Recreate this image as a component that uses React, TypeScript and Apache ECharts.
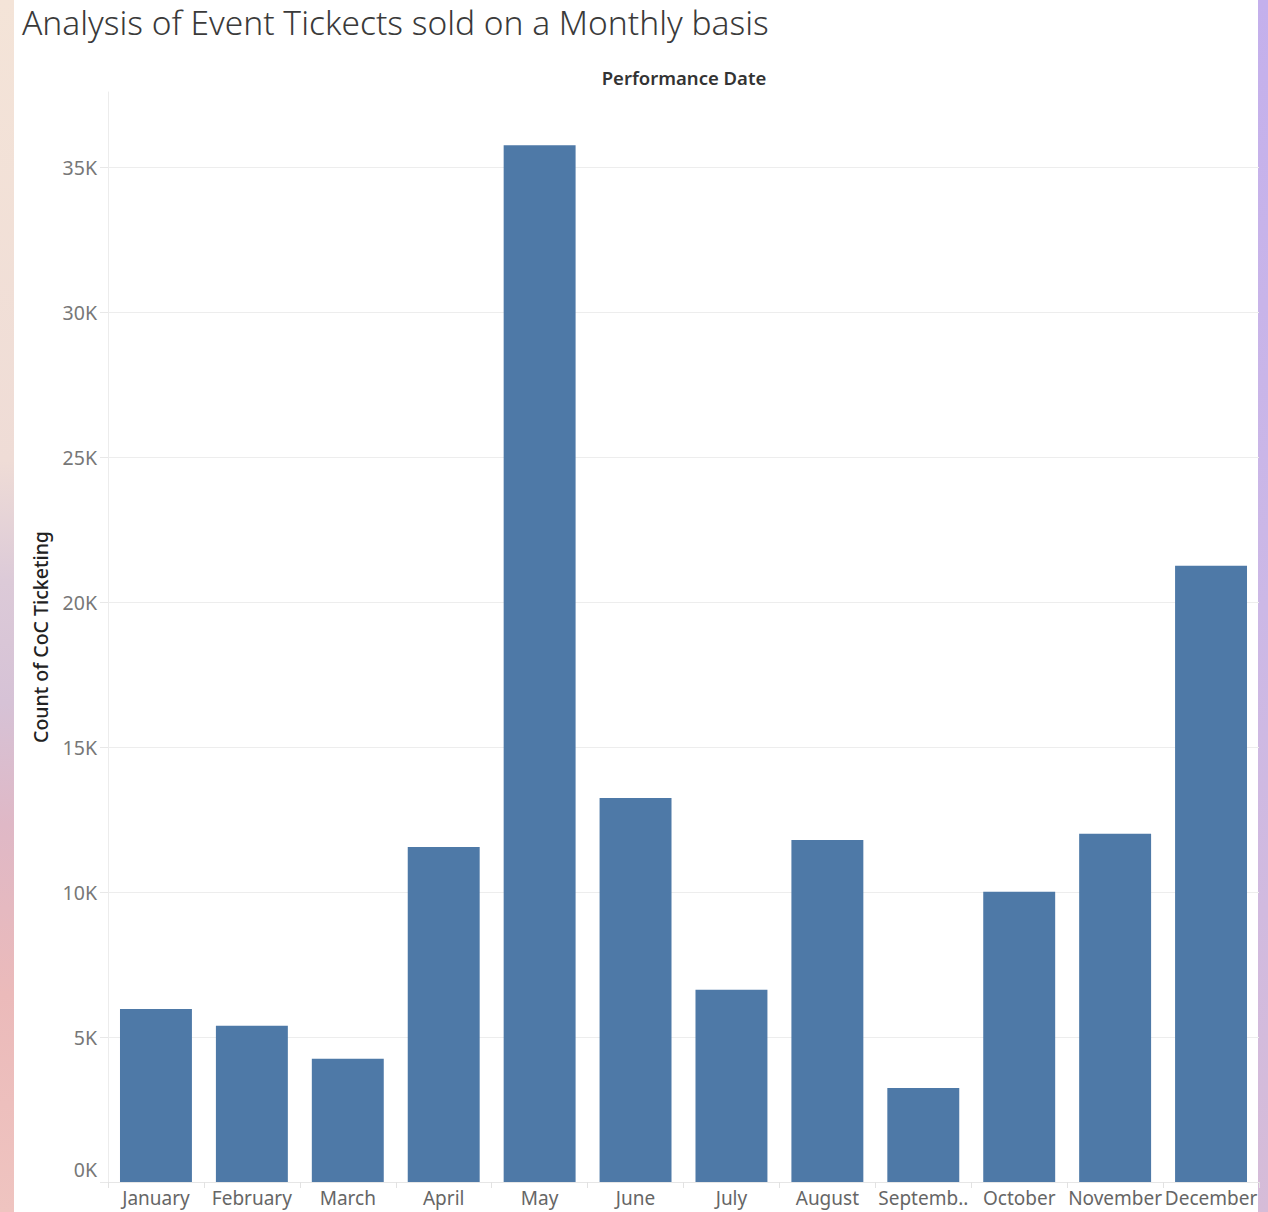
import React, { useEffect, useRef } from "react";
import * as echarts from "echarts";

const TITLE = "Analysis of Event Tickects sold on a Monthly basis";
const X_TITLE = "Performance Date";
const Y_TITLE = "Count of CoC Ticketing";
const months = [
  "January", "February", "March", "April", "May", "June",
  "July", "August", "September", "October", "November", "December",
];
const tickets = [5970, 5390, 4250, 11560, 35760, 13250, 6630, 11800, 3240, 10010, 12010, 21260];
const yMax = 37600;
const yStep = 5000;

const FONT = "'Noto Sans', 'Open Sans', sans-serif";

export default function App() {
  const ref = useRef<HTMLDivElement>(null);
  useEffect(() => {
    if (!ref.current) return;
    const chart = echarts.init(ref.current, undefined, { renderer: "svg" });
    chart.setOption({
      animation: false,
      backgroundColor: "#ffffff",
      textStyle: { fontFamily: FONT },
      title: {
        text: TITLE,
        left: 17,
        top: 0,
        padding: [2, 5, 2, 5],
        textStyle: { fontSize: 33.5, lineHeight: 40, fontWeight: 300, color: "#3a3a3a", fontFamily: FONT },
      },
      graphic: [
        {
          type: "rect",
          z: -10,
          shape: { x: 0, y: 0, width: 14, height: 1212 },
          style: {
            fill: new echarts.graphic.LinearGradient(0, 0, 0, 1, [
              { offset: 0, color: "#f4e4d8" },
              { offset: 0.38, color: "#efdcd6" },
              { offset: 0.48, color: "#dccad8" },
              { offset: 0.58, color: "#d6c2d6" },
              { offset: 0.68, color: "#dfb8c6" },
              { offset: 0.82, color: "#ebbaba" },
              { offset: 1, color: "#efc4c0" },
            ]),
          },
        },
        {
          type: "rect",
          z: -10,
          shape: { x: 1258, y: 0, width: 10, height: 1212 },
          style: {
            fill: new echarts.graphic.LinearGradient(0, 0, 0, 1, [
              { offset: 0, color: "#c4b0ec" },
              { offset: 0.5, color: "#ccb8e6" },
              { offset: 1, color: "#d6bcd8" },
            ]),
          },
        },
        {
          type: "text",
          x: 684,
          y: 77,
          style: {
            text: X_TITLE,
            fontSize: 18.5,
            fontWeight: 600,
            fill: "#333333",
            fontFamily: FONT,
            textAlign: "center",
            textVerticalAlign: "middle",
          },
        },
      ],
      grid: { left: 108, right: 9, top: 92, bottom: 30, containLabel: false },
      xAxis: {
        type: "category",
        data: months,
        axisLine: { show: true, lineStyle: { color: "#e6e6e6", width: 1 } },
        axisTick: { show: true, length: 6, lineStyle: { color: "#e2e2e2" } },
        axisLabel: {
          interval: 0,
          margin: 6,
          fontSize: 19,
          color: "#666666",
          fontFamily: FONT,
          formatter: (v: string) => (v.length > 8 ? v.slice(0, 7) + ".." : v),
        },
        splitLine: { show: false },
      },
      yAxis: {
        type: "value",
        min: 0,
        max: yMax,
        interval: yStep,
        name: Y_TITLE,
        nameLocation: "middle",
        nameGap: 58,
        nameTextStyle: { fontSize: 19.5, color: "#222222", fontWeight: 500, fontFamily: FONT },
        axisLine: { show: true, lineStyle: { color: "#ececec", width: 1 } },
        axisTick: { show: true, length: 8, lineStyle: { color: "#e8e8e8" } },
        axisLabel: {
          showMaxLabel: false,
          margin: 11,
          fontSize: 19.5,
          color: "#777777",
          fontFamily: FONT,
          formatter: (v: number) =>
            v === 0 ? "{zero|0K}" : v % yStep === 0 ? `${v / 1000}K` : "",
          rich: {
            zero: { fontSize: 19.5, color: "#777777", fontFamily: FONT, padding: [0, 0, 26, 0] },
          },
        },
        splitLine: { show: true, showMaxLine: false, lineStyle: { color: "#ededed", width: 1 } },
      },
      series: [
        {
          type: "bar",
          data: tickets,
          barCategoryGap: "25%",
          itemStyle: { color: "#4e79a7" },
        },
      ],
    });
    return () => chart.dispose();
  }, []);
  return (
    <div
      ref={ref}
      style={{ position: "absolute", left: 0, top: 0, width: 1268, height: 1212 }}
    />
  );
}
